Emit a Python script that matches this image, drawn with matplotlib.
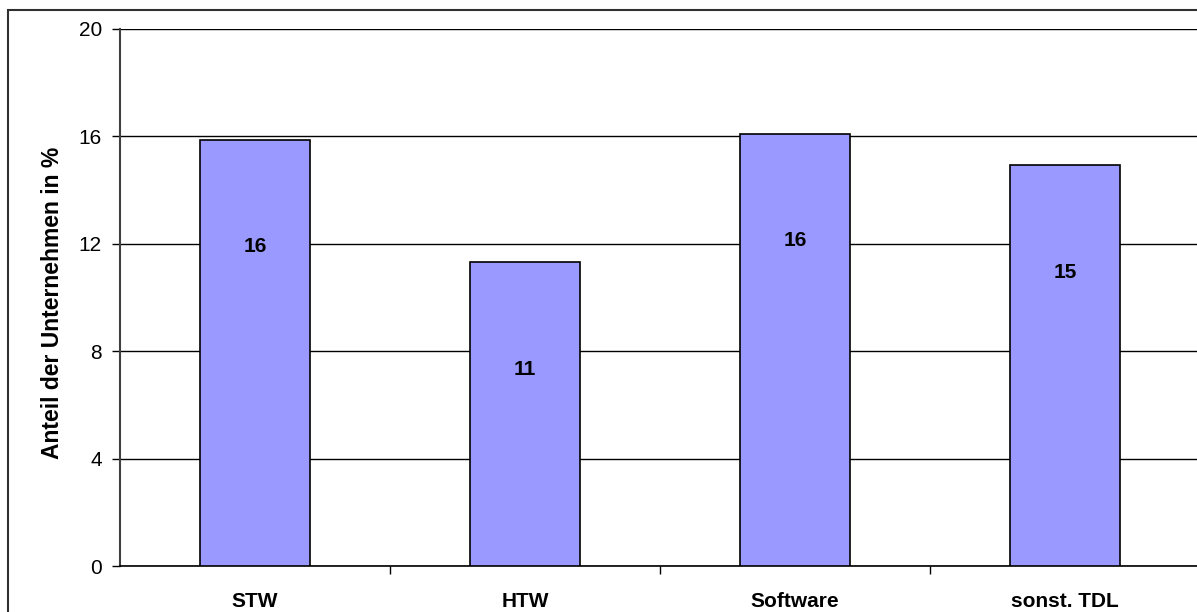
'''Bar chart: Anteil der Unternehmen je Branche'''
import numpy as np
import matplotlib.pyplot as plt
from matplotlib.patches import Rectangle

categories = ['STW', 'HTW', 'Software', 'sonst. TDL']
values = [15.87, 11.32, 16.09, 14.93]
value_labels = ['16', '11', '16', '15']

plt.rcParams['font.family'] = ['Liberation Sans', 'DejaVu Sans']

fig = plt.figure(figsize=(11.97, 6.12), dpi=100)
ax = fig.add_axes([120 / 1197, 1 - 566 / 612, 1080 / 1197, 537 / 612])

x = np.arange(len(categories))
bars = ax.bar(x, values, width=0.407, color='#9999ff', edgecolor='black',
              linewidth=1.2, zorder=3)

for bar, lab in zip(bars, value_labels):
    ax.annotate(lab, (bar.get_x() + bar.get_width() / 2, bar.get_height()),
                xytext=(0, -77), textcoords='offset points',
                ha='center', va='center', fontsize=15, fontweight='bold', zorder=4)

ax.set_xlim(-0.5, len(categories) - 0.5)
ax.set_ylim(0, 20)
ax.set_yticks([0, 4, 8, 12, 16, 20])
ax.yaxis.grid(True, color='black', linewidth=1)
ax.set_axisbelow(True)

ax.set_xticks(x, labels=categories, fontsize=15, fontweight='bold')
ax.tick_params(axis='x', length=0, pad=19)
ax.set_xticks(np.arange(len(categories)) + 0.5, minor=True)
ax.tick_params(axis='x', which='minor', length=6, direction='out', width=1)
ax.tick_params(axis='y', length=6, width=1, labelsize=15, pad=7)

ax.set_ylabel('Anteil der Unternehmen in %', fontsize=16.5, fontweight='bold')
ax.yaxis.set_label_coords((64 - 120) / 1080, 0.49)

ax.spines[['top', 'right']].set_visible(False)
ax.spines['left'].set_color('#404040')
ax.spines['left'].set_linewidth(1.5)
ax.spines['bottom'].set_linewidth(1.2)

# outer chart frame (cut off at right and bottom edges)
frame = Rectangle((8 / 1197, -0.2), 1.2, 1.2 - 10 / 612, transform=fig.transFigure,
                  fill=False, edgecolor='#303030', linewidth=1.5)
fig.patches.append(frame)

plt.savefig('out.png')
